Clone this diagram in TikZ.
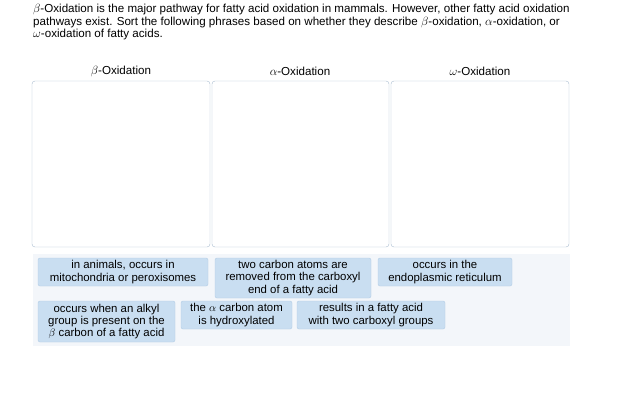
\documentclass[tikz,border=0pt]{standalone}
\usepackage{fontspec}
\setmainfont{Liberation Sans}
\definecolor{tilefill}{HTML}{C9DEF1}
\definecolor{tileline}{HTML}{B3CDE6}
\definecolor{panel}{HTML}{F3F6FA}
\definecolor{boxline}{HTML}{A9BCD0}
\begin{document}
\begin{tikzpicture}[x=1pt,y=-1pt,
  txt/.style={font=\fontsize{11.6}{12.6}\selectfont,inner sep=0pt},
  tile/.style={draw=tileline,fill=tilefill,rounded corners=2pt,font=\fontsize{11.4}{12.2}\selectfont,align=center,inner sep=0pt},
  bin/.style={draw=boxline,fill=white,rounded corners=3pt}]
\useasboundingbox (0,0) rectangle (642,407);
\node[txt,anchor=north west,align=left] (q) at (33,4) {$\beta$-Oxidation is the major pathway for fatty acid oxidation in mammals. However, other fatty acid oxidation\\pathways exist. Sort the following phrases based on whether they describe $\beta$-oxidation, $\alpha$-oxidation, or\\$\omega$-oxidation of fatty acids.};
\node[txt] (h1) at (121,71) {$\beta$-Oxidation};
\node[txt] (h2) at (300,71) {$\alpha$-Oxidation};
\node[txt] (h3) at (480,71) {$\omega$-Oxidation};
\draw[bin] (32,81) rectangle (210,247);
\draw[bin] (212,81) rectangle (389,247);
\draw[bin] (391,81) rectangle (569,247);
\fill[panel] (33,254) rectangle (570,346);
\node[tile,minimum width=170,minimum height=28] (t1) at (123,272) {in animals, occurs in\\mitochondria or peroxisomes};
\node[tile,minimum width=156,minimum height=40] (t2) at (293,278) {two carbon atoms are\\removed from the carboxyl\\end of a fatty acid};
\node[tile,minimum width=134,minimum height=28] (t3) at (445,272) {occurs in the\\endoplasmic reticulum};
\node[tile,minimum width=137,minimum height=41] (t4) at (106.5,321.5) {occurs when an alkyl\\group is present on the\\$\beta$ carbon of a fatty acid};
\node[tile,minimum width=111,minimum height=28] (t5) at (236.5,315) {the $\alpha$ carbon atom\\is hydroxylated};
\node[tile,minimum width=148,minimum height=28] (t6) at (371,315) {results in a fatty acid\\with two carboxyl groups};
\end{tikzpicture}
\end{document}
